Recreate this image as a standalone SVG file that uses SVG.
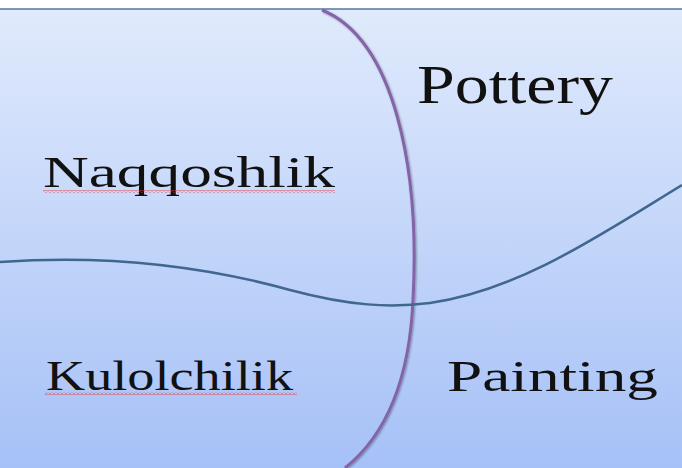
<svg xmlns="http://www.w3.org/2000/svg" width="682" height="468" viewBox="0 0 682 468">
<defs>
<linearGradient id="bg" x1="0" y1="0" x2="0" y2="1">
<stop offset="0" stop-color="#e0eafc"/>
<stop offset="1" stop-color="#a6c1f7"/>
</linearGradient>
<pattern id="wave" x="0" y="0" width="4" height="3" patternUnits="userSpaceOnUse">
<polyline points="0,2.5 2,0.5 4,2.5" fill="none" stroke="#e23b3b" stroke-width="0.9"/>
</pattern>
<filter id="sh" x="-10%" y="-10%" width="130%" height="130%">
<feGaussianBlur in="SourceAlpha" stdDeviation="1"/>
<feOffset dx="1" dy="1" result="b"/>
<feComponentTransfer><feFuncA type="linear" slope="0.35"/></feComponentTransfer>
<feMerge><feMergeNode/><feMergeNode in="SourceGraphic"/></feMerge>
</filter>
</defs>
<style>
.lbl{font-family:"Liberation Serif","Times New Roman",serif;fill:#111;}
</style>
<rect x="0" y="0" width="682" height="468" fill="#ffffff"/>
<rect x="0" y="9" width="682" height="459" fill="url(#bg)"/>
<line x1="0" y1="9" x2="682" y2="9" stroke="#4f79a8" stroke-width="1.5"/>
<g id="connectors">
<path d="M322,10 C395,40 420,170 413,300 C409,390 380,440 345,468" fill="none" stroke="#8464a8" stroke-width="3" filter="url(#sh)"/>
<path d="M0,262 C100,255 200,265 290,290 C350,306 390,308 430,303 C520,290 600,235 682,185" fill="none" stroke="#41668f" stroke-width="2.5"/>
</g>
<g id="pottery">
<text class="lbl" x="417" y="103" font-size="54" textLength="196" lengthAdjust="spacingAndGlyphs">Pottery</text>
</g>
<g id="naqqoshlik">
<text class="lbl" x="43" y="187" font-size="45" textLength="292" lengthAdjust="spacingAndGlyphs">Naqqoshlik</text>
<rect x="43" y="190" width="292" height="3" fill="url(#wave)"/>
</g>
<g id="kulolchilik">
<text class="lbl" x="46" y="390" font-size="42" textLength="247" lengthAdjust="spacingAndGlyphs">Kulolchilik</text>
<rect x="45" y="392" width="252" height="3" fill="url(#wave)"/>
</g>
<g id="painting">
<text class="lbl" x="447" y="391" font-size="45" textLength="211" lengthAdjust="spacingAndGlyphs">Painting</text>
</g>
</svg>
